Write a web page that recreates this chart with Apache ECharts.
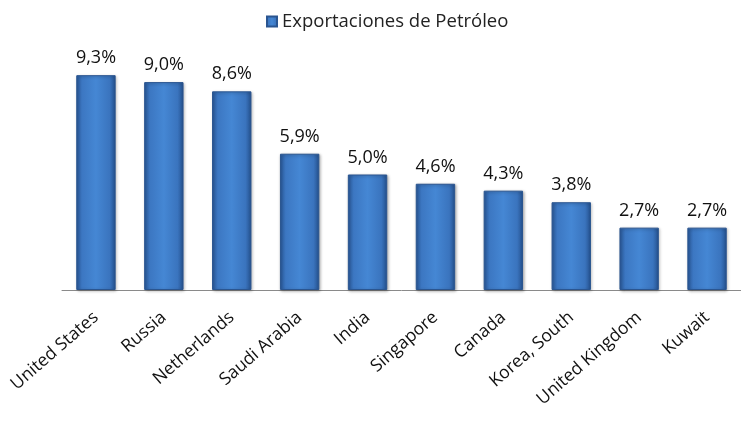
<!DOCTYPE html>
<html><head><meta charset="utf-8">
<script src="https://cdn.jsdelivr.net/npm/echarts@6/dist/echarts.min.js"></script>
<style>html,body{margin:0;padding:0;background:#fff}#c{width:741px;height:438px}</style>
</head><body><div id="c"></div>
<script>
const categories = ['United States','Russia','Netherlands','Saudi Arabia','India','Singapore','Canada','Korea, South','United Kingdom','Kuwait'];
const values = [9.3, 9.0, 8.6, 5.9, 5.0, 4.6, 4.3, 3.8, 2.7, 2.7];
const seriesName = 'Exportaciones de Petróleo';

const barColor = new echarts.graphic.LinearGradient(0,0,1,0,[
  {offset:0,color:'#2a5a9c'},
  {offset:0.15,color:'#3c77c2'},
  {offset:0.5,color:'#4587d4'},
  {offset:0.85,color:'#3a74be'},
  {offset:1,color:'#24508c'}
]);
const chart = echarts.init(document.getElementById('c'));
chart.setOption({
  animation:false,
  textStyle:{fontFamily:'Open Sans'},
  legend:{
    data:[seriesName], top:7, left:261, itemWidth:10, itemHeight:10, itemGap:7,
    icon:'rect',
    textStyle:{fontFamily:'Open Sans',fontSize:18.5,color:'#222'}
  },
  grid:{left:62,right:-9,top:59,bottom:148},
  xAxis:{
    type:'category', data:categories,
    axisLine:{lineStyle:{color:'#8a8a8a'}},
    axisTick:{length:5,lineStyle:{color:'#8a8a8a'}},
    axisLabel:{rotate:41,margin:25,fontFamily:'Open Sans',fontSize:17.5,color:'#111',interval:0}
  },
  yAxis:{type:'value',min:0,max:10,show:false,splitLine:{show:false}},
  series:[{
    name:seriesName, type:'bar', data:values, barWidth:'58%',
    itemStyle:{color:barColor,borderColor:'#2a5590',borderWidth:1,shadowColor:'rgba(0,0,0,0.3)',shadowBlur:3,shadowOffsetX:1,shadowOffsetY:1},
    label:{show:true,position:'top',distance:8,fontFamily:'Open Sans',fontSize:18,color:'#111',
      formatter:p=>p.value.toFixed(1).replace('.',',')+'%'}
  }]
});
</script></body></html>
